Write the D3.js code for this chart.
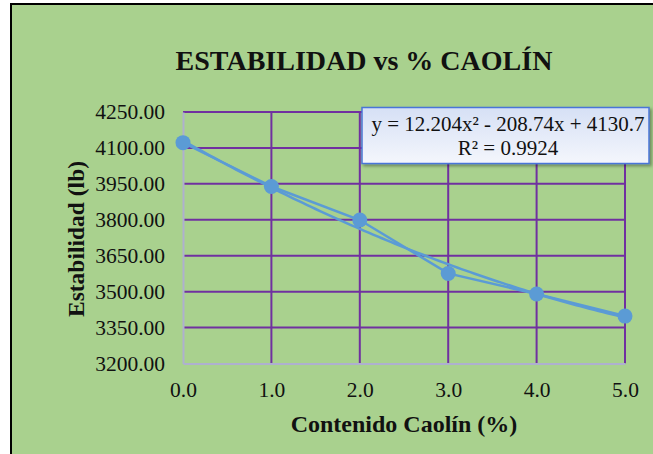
<!DOCTYPE html>
<html>
<head>
<meta charset="utf-8">
<script src="https://cdn.jsdelivr.net/npm/d3@7"></script>
<style>
  body { margin: 0; background: #fff; }
  svg { display: block; font-family: "Liberation Serif", "Times New Roman", serif; }
</style>
</head>
<body>
<svg id="svg"></svg>
<script>
var width = 653;
var height = 454;

// data
const caolin = [0, 1, 2, 3, 4, 5];
const estabilidad = [4122, 3939, 3799, 3576, 3490, 3398];
const yTicks = [3200, 3350, 3500, 3650, 3800, 3950, 4100, 4250];
const xTicks = [0, 1, 2, 3, 4, 5];
// trendline coefficients (a x^2 + b x + c) as printed on the chart
const coef = [12.204, -208.74, 4130.7];

var svg = d3.select("#svg")
    .attr("width", width)
    .attr("height", height);

// chart background with black frame on top/left
svg.append("rect")
    .attr("x", 10).attr("y", 3)
    .attr("width", width - 10).attr("height", height - 3)
    .attr("fill", "#a9d18e");
svg.append("path")
    .attr("d", `M11,${height}V4H${width}`)
    .attr("fill", "none")
    .attr("stroke", "#000")
    .attr("stroke-width", 2);

var x = d3.scaleLinear().domain([0, 5]).range([183, 625]);
var y = d3.scaleLinear().domain([3200, 4250]).range([363.5, 112]);

// gridlines
var grid = svg.append("g").attr("stroke", "#7030a0").attr("stroke-width", 2);
grid.selectAll(".h")
  .data(yTicks.slice(1))
  .join("line")
    .attr("x1", x(0)).attr("x2", x(5))
    .attr("y1", d => y(d)).attr("y2", d => y(d));
grid.selectAll(".v")
  .data(xTicks.slice(1))
  .join("line")
    .attr("x1", d => x(d)).attr("x2", d => x(d))
    .attr("y1", y(4250)).attr("y2", y(3200));

// axes (lines in grey-lavender, no ticks)
var yAxis = svg.append("g")
    .attr("transform", `translate(${x(0)},0)`)
    .call(d3.axisLeft(y).tickValues(yTicks).tickSize(0).tickPadding(18).tickFormat(d3.format(".2f")));
var xAxis = svg.append("g")
    .attr("transform", `translate(0,${y(3200)})`)
    .call(d3.axisBottom(x).tickValues(xTicks).tickSize(0).tickPadding(18).tickFormat(d3.format(".1f")));
[yAxis, xAxis].forEach(a => {
  a.select(".domain").attr("stroke", "#aeb0cf").attr("stroke-width", 2);
  a.selectAll("text")
    .attr("font-family", "Liberation Serif")
    .attr("font-size", 21.5)
    .attr("fill", "#111");
});

// series line + markers
var line = d3.line().x((d, i) => x(caolin[i])).y(d => y(d));
svg.append("path")
    .datum(estabilidad)
    .attr("d", line)
    .attr("fill", "none")
    .attr("stroke", "#5b9bd5")
    .attr("stroke-width", 2.5);

// polynomial trendline
var trend = d3.range(0, 5.001, 0.05).map(t => [t, coef[0] * t * t + coef[1] * t + coef[2]]);
svg.append("path")
    .datum(trend)
    .attr("d", d3.line().x(d => x(d[0])).y(d => y(d[1])))
    .attr("fill", "none")
    .attr("stroke", "#5b9bd5")
    .attr("stroke-width", 2.5);

svg.append("g")
  .selectAll("circle")
  .data(estabilidad)
  .join("circle")
    .attr("cx", (d, i) => x(caolin[i]))
    .attr("cy", d => y(d))
    .attr("r", 7.5)
    .attr("fill", "#5b9bd5");

// title and axis titles
svg.append("text")
    .attr("x", 364).attr("y", 70)
    .attr("text-anchor", "middle")
    .attr("font-size", 28).attr("font-weight", "bold")
    .attr("fill", "#111")
    .text("ESTABILIDAD vs % CAOLÍN");

svg.append("text")
    .attr("transform", "translate(84,239) rotate(-90)")
    .attr("text-anchor", "middle")
    .attr("font-size", 23.5).attr("font-weight", "bold")
    .attr("fill", "#111")
    .text("Estabilidad (lb)");

svg.append("text")
    .attr("x", 404).attr("y", 432)
    .attr("text-anchor", "middle")
    .attr("font-size", 24).attr("font-weight", "bold")
    .attr("fill", "#111")
    .text("Contenido Caolín (%)");

// equation label box
var defs = svg.append("defs");
var grad = defs.append("linearGradient").attr("id", "boxg").attr("x1", 0).attr("y1", 0).attr("x2", 0).attr("y2", 1);
grad.append("stop").attr("offset", 0).attr("stop-color", "#d6e0f5");
grad.append("stop").attr("offset", 1).attr("stop-color", "#f4f6fc");
var sh = defs.append("filter").attr("id", "sh").attr("x", -0.1).attr("y", -0.2).attr("width", 1.2).attr("height", 1.5);
sh.append("feDropShadow").attr("dx", 2).attr("dy", 2).attr("stdDeviation", 1.5).attr("flood-color", "#000").attr("flood-opacity", 0.35);

svg.append("rect")
    .attr("x", 362).attr("y", 107.5)
    .attr("width", 287).attr("height", 56)
    .attr("fill", "url(#boxg)")
    .attr("stroke", "#4a74d8")
    .attr("stroke-width", 1.5)
    .attr("filter", "url(#sh)");

var eq = svg.append("text")
    .attr("text-anchor", "middle")
    .attr("font-size", 21)
    .attr("fill", "#111");
eq.append("tspan").attr("x", 508).attr("y", 131)
    .text(`y = ${coef[0]}x² - ${Math.abs(coef[1])}x + ${coef[2]}`);
eq.append("tspan").attr("x", 508).attr("y", 155)
    .text("R² = 0.9924");
</script>
</body>
</html>
